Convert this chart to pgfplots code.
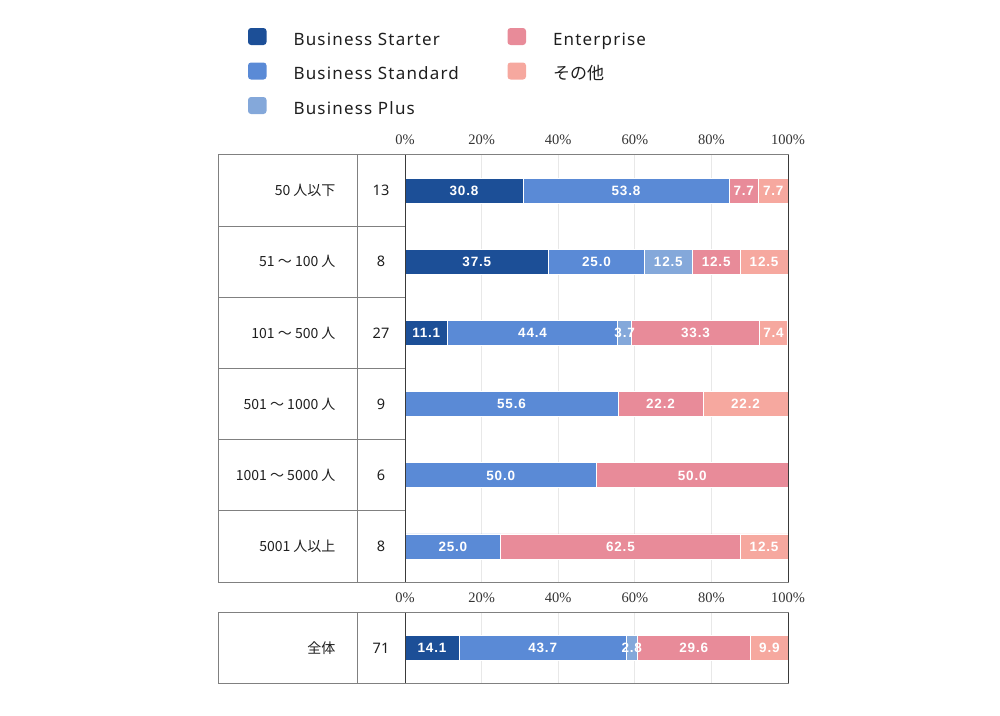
\documentclass[border=0pt]{standalone}
\usepackage{fontspec}
\usepackage{pgfplots}
\usepackage{pgfplotstable}
\pgfplotsset{compat=1.18}
\setmainfont{Noto Sans}
\newfontfamily\cjk{Noto Sans CJK JP}
\newfontfamily\legfont[LetterSpace=7]{Noto Sans}
\newfontfamily\tickfont{Liberation Serif}
\newfontfamily\labfont[LetterSpace=6]{Liberation Sans}
\definecolor{cStarter}{HTML}{1C4F97}
\definecolor{cStandard}{HTML}{5A8AD6}
\definecolor{cPlus}{HTML}{84A8DA}
\definecolor{cEnt}{HTML}{E88B99}
\definecolor{cOther}{HTML}{F6A89F}
\definecolor{tabline}{HTML}{808080}
\definecolor{darkline}{HTML}{3A3A3A}

% y: 6 = top row
\pgfplotstableread{
y s1 s2 s3 s4 s5
6 30.8 53.8 0 7.7 7.7
5 37.5 25.0 12.5 12.5 12.5
4 11.1 44.4 3.7 33.3 7.4
3 0 55.6 0 22.2 22.2
2 0 50.0 0 50.0 0
1 0 25.0 0 62.5 12.5
}\groups
\pgfplotstableread{
y s1 s2 s3 s4 s5
1 14.1 43.7 2.8 29.6 9.9
}\total

\tikzset{
  catlab/.style={anchor=east, xshift=-66pt, font=\cjk\fontsize{14}{16}\selectfont, text=black!88},
  cntlab/.style={anchor=center, xshift=-24pt, font=\fontsize{14.5}{16}\selectfont, text=black!88},
}
\pgfplotsset{
  frame/.style={
    scale only axis, width=383pt, xmin=0, xmax=100, clip=false, anchor=south west,
    /pgf/number format/assume math mode=true,
  },
  blockaxis/.style={
    frame,
    xbar stacked, bar width=25pt,
    xtick={0,20,...,100}, xticklabel pos=upper,
    xticklabel={\pgfmathprintnumber{\tick}\%},
    xticklabel style={font=\tickfont\fontsize{14.5}{16}\selectfont, text=black!80, anchor=center, yshift=15pt},
    ytick=\empty,
    major tick length=0pt,
    xmajorgrids, grid style={black!9, line width=0.8pt},
    axis line style={draw=none},
  },
  labaxis/.style={
    frame, hide axis,
    point meta=explicit,
    nodes near coords={\pgfmathfloatifflags{\pgfplotspointmeta}{0}{}{\pgfmathprintnumber[fixed,fixed zerofill,precision=1,assume math mode=true]{\pgfplotspointmeta}}},
    nodes near coords align=vertical,
    every node near coord/.style={yshift=-5pt, font=\labfont\bfseries\fontsize{13.5}{14}\selectfont, text=white, inner sep=0pt, text height=10pt, text depth=0pt},
  },
  seg/.style={fill=#1, draw=white, line width=0.8pt},
  lab/.style={only marks, mark=none},
}

\begin{document}
\begin{tikzpicture}[x=1pt,y=1pt]
\path[use as bounding box] (0,0) rectangle (1000,715);

% legend axis
\begin{axis}[scale only axis, width=383pt, height=427pt, at={(405pt,133pt)}, anchor=south west,
  hide axis, xmin=0, xmax=1, ymin=0, ymax=1,
  legend columns=2, legend cell align=left,
  legend image code/.code={\fill[#1, draw=none, rounded corners=3pt] (0pt,-4.5pt) rectangle (18.5pt,12.5pt);},
  legend style={at={(-0.4099,1.2974)}, anchor=north west, draw=none, fill=none, inner sep=0pt, outer sep=0pt,
    nodes={inner sep=0pt, text width=214pt, text height=13pt, text depth=4pt, font=\legfont\fontsize{17}{18}\selectfont, text=black!88, align=left},
    row sep=13.5pt,
    /tikz/every odd column/.append style={column sep=27pt},
    /tikz/every even column/.append style={column sep=0pt}},
]
\addlegendimage{fill=cStarter}\addlegendentry{Business Starter}
\addlegendimage{fill=cEnt}\addlegendentry{Enterprise}
\addlegendimage{fill=cStandard}\addlegendentry{Business Standard}
\addlegendimage{fill=cOther}\addlegendentry{\cjk その他}
\addlegendimage{fill=cPlus}\addlegendentry{Business Plus}
\end{axis}

% top block
\begin{axis}[blockaxis, at={(405pt,133pt)}, height=427pt, ymin=0.5, ymax=6.5]
\addplot[seg=cStarter] table[x=s1,y=y]{\groups};
\addplot[seg=cStandard] table[x=s2,y=y]{\groups};
\addplot[seg=cPlus] table[x=s3,y=y]{\groups};
\addplot[seg=cEnt] table[x=s4,y=y]{\groups};
\addplot[seg=cOther] table[x=s5,y=y]{\groups};
\node[catlab] at (axis cs:0,6) {50 人以下};
\node[catlab] at (axis cs:0,5) {51 〜 100 人};
\node[catlab] at (axis cs:0,4) {101 〜 500 人};
\node[catlab] at (axis cs:0,3) {501 〜 1000 人};
\node[catlab] at (axis cs:0,2) {1001 〜 5000 人};
\node[catlab] at (axis cs:0,1) {5001 人以上};
\node[cntlab] at (axis cs:0,6) {13};
\node[cntlab] at (axis cs:0,5) {8};
\node[cntlab] at (axis cs:0,4) {27};
\node[cntlab] at (axis cs:0,3) {9};
\node[cntlab] at (axis cs:0,2) {6};
\node[cntlab] at (axis cs:0,1) {8};
\end{axis}
% top block labels (centred in each segment)
\begin{axis}[labaxis, at={(405pt,133pt)}, height=427pt, ymin=0.5, ymax=6.5]
\addplot[lab] table[x expr=\thisrow{s1}/2, y=y, meta=s1]{\groups};
\addplot[lab] table[x expr=\thisrow{s1}+\thisrow{s2}/2, y=y, meta=s2]{\groups};
\addplot[lab] table[x expr=\thisrow{s1}+\thisrow{s2}+\thisrow{s3}/2, y=y, meta=s3]{\groups};
\addplot[lab] table[x expr=\thisrow{s1}+\thisrow{s2}+\thisrow{s3}+\thisrow{s4}/2, y=y, meta=s4]{\groups};
\addplot[lab] table[x expr=\thisrow{s1}+\thisrow{s2}+\thisrow{s3}+\thisrow{s4}+\thisrow{s5}/2, y=y, meta=s5]{\groups};
\end{axis}

% bottom block
\begin{axis}[blockaxis, at={(405pt,32pt)}, height=70.3pt, ymin=0.5, ymax=1.5]
\addplot[seg=cStarter] table[x=s1,y=y]{\total};
\addplot[seg=cStandard] table[x=s2,y=y]{\total};
\addplot[seg=cPlus] table[x=s3,y=y]{\total};
\addplot[seg=cEnt] table[x=s4,y=y]{\total};
\addplot[seg=cOther] table[x=s5,y=y]{\total};
\node[catlab] at (axis cs:0,1) {全体};
\node[cntlab] at (axis cs:0,1) {71};
\end{axis}
\begin{axis}[labaxis, at={(405pt,32pt)}, height=70.3pt, ymin=0.5, ymax=1.5]
\addplot[lab] table[x expr=\thisrow{s1}/2, y=y, meta=s1]{\total};
\addplot[lab] table[x expr=\thisrow{s1}+\thisrow{s2}/2, y=y, meta=s2]{\total};
\addplot[lab] table[x expr=\thisrow{s1}+\thisrow{s2}+\thisrow{s3}/2, y=y, meta=s3]{\total};
\addplot[lab] table[x expr=\thisrow{s1}+\thisrow{s2}+\thisrow{s3}+\thisrow{s4}/2, y=y, meta=s4]{\total};
\addplot[lab] table[x expr=\thisrow{s1}+\thisrow{s2}+\thisrow{s3}+\thisrow{s4}+\thisrow{s5}/2, y=y, meta=s5]{\total};
\end{axis}

% table lines
\draw[tabline, line width=1pt] (218.5,560) rectangle (788,133);
\draw[tabline, line width=1pt] (357,560) -- (357,133);
\foreach \yy in {488.8,417.7,346.5,275.3,204.2} {\draw[tabline, line width=1pt] (218.5,\yy) -- (405,\yy);}
\draw[darkline, line width=1pt] (405,560) -- (405,133);
\draw[darkline, line width=1pt] (788,560) -- (788,133);

\draw[tabline, line width=1pt] (218.5,102.3) rectangle (788,32);
\draw[tabline, line width=1pt] (357,102.3) -- (357,32);
\draw[darkline, line width=1pt] (405,102.3) -- (405,32);
\draw[darkline, line width=1pt] (788,102.3) -- (788,32);
\end{tikzpicture}
\end{document}
